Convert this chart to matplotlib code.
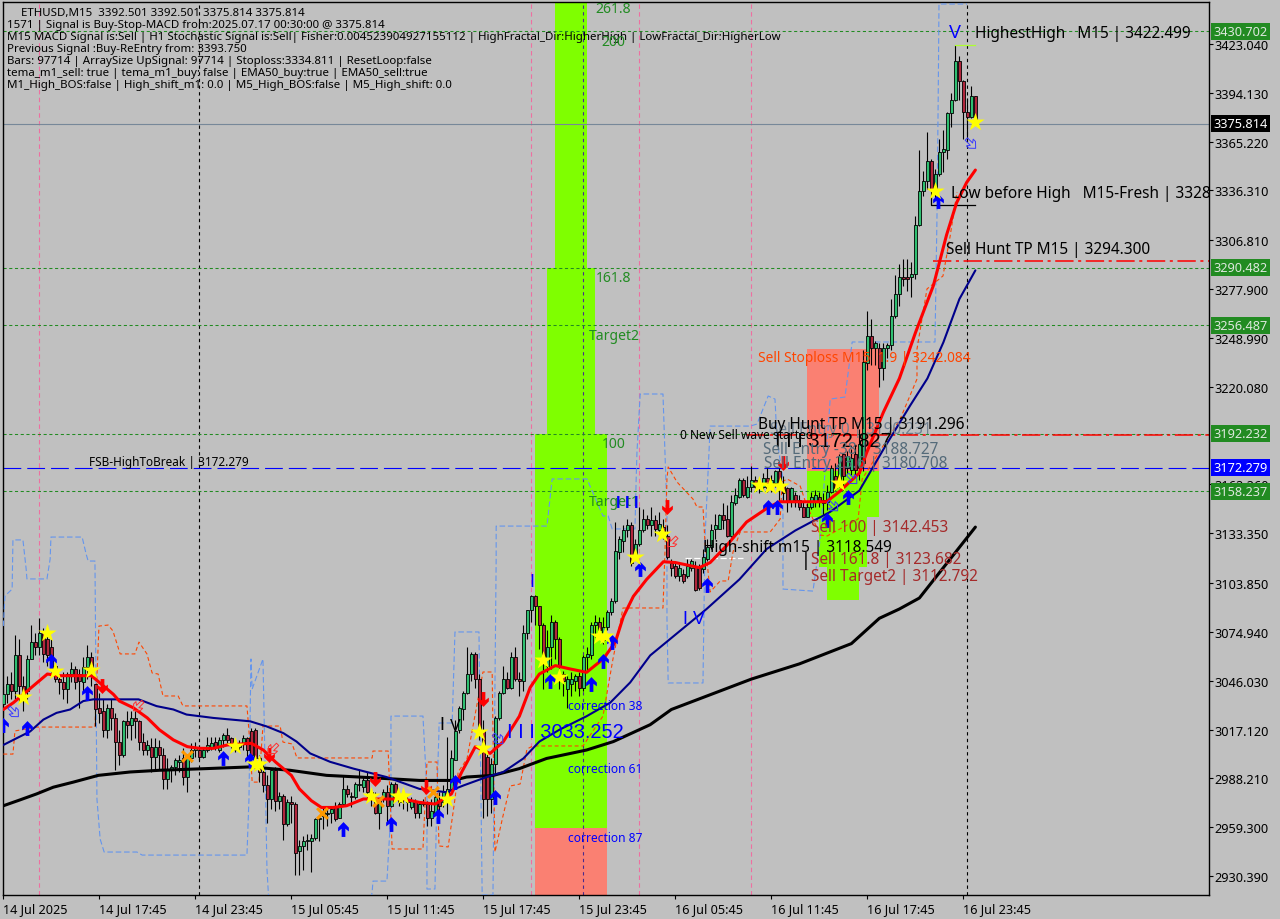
import matplotlib
matplotlib.use('Agg')
import matplotlib.pyplot as plt
from matplotlib.path import Path
from matplotlib.transforms import Affine2D

plt.rcParams['font.family'] = ['Noto Sans', 'DejaVu Sans']

# candles, one value per 15 minute bar
opens = [3032, 3038, 3044, 3040, 3061, 3043, 3040, 3059, 3069, 3066,
         3074, 3071, 3066, 3055, 3047, 3045, 3041, 3050, 3053, 3050,
         3045, 3054, 3060, 3044, 3030, 3028, 3017, 3030, 3024, 3010,
         3002, 3022, 3020, 3024, 3022, 3010, 3005, 3007, 3001, 3007,
         3002, 2988, 2993, 2995, 2998, 3000, 2989, 3000, 3005, 3005,
         3001, 3005, 3007, 3010, 3005, 3011, 3014, 3012, 3005, 3007,
         3009, 3012, 3016, 3017, 3000, 2992, 2984, 2976, 2993, 2975,
         2978, 2961, 2974, 2973, 2945, 2948, 2951, 2951, 2953, 2964,
         2966, 2967, 2968, 2971, 2965, 2973, 2982, 2978, 2977, 2984,
         2983, 2987, 2980, 2975, 2968, 2976, 2980, 2972, 2985, 2974,
         2977, 2976, 2971, 2974, 2968, 2973, 2973, 2965, 2968, 2975,
         2974, 2978, 2982, 2999, 3017, 3029, 3039, 3050, 3062, 3047,
         3017, 3001, 2976, 2997, 3024, 3039, 3047, 3042, 3060, 3047,
         3046, 3074, 3088, 3096, 3090, 3079, 3055, 3066, 3081, 3071,
         3050, 3041, 3044, 3046, 3049, 3042, 3060, 3061, 3079, 3081,
         3070, 3078, 3087, 3093, 3122, 3129, 3135, 3138, 3121, 3127,
         3135, 3142, 3138, 3141, 3135, 3137, 3132, 3116, 3114, 3108,
         3109, 3108, 3113, 3114, 3113, 3112, 3118, 3125, 3136, 3136,
         3144, 3142, 3132, 3151, 3155, 3165, 3155, 3161, 3165, 3161,
         3161, 3166, 3160, 3163, 3170, 3162, 3160, 3152, 3156, 3153,
         3149, 3143, 3149, 3152, 3155, 3151, 3152, 3158, 3167, 3165,
         3180, 3172, 3171, 3180, 3172, 3175, 3234, 3250, 3243, 3243,
         3231, 3243, 3245, 3262, 3275, 3285, 3284.8, 3285, 3287, 3316,
         3336, 3342, 3354, 3337, 3346, 3359, 3360, 3382, 3390, 3413,
         3401, 3383, 3380, 3392.5]
highs = [3043, 3049, 3051, 3073, 3071, 3049, 3061, 3079, 3074, 3083,
         3077, 3075, 3071, 3057, 3050, 3051, 3051, 3057, 3055, 3053,
         3060, 3067, 3063, 3044, 3039, 3035, 3032, 3035, 3027, 3017,
         3023, 3028, 3028, 3028, 3023, 3015, 3011, 3012, 3012, 3011,
         3006, 3000, 2996, 3000, 3002, 3006, 3001, 3009, 3010, 3008,
         3007, 3013, 3013, 3013, 3013, 3015, 3018, 3013, 3011, 3011,
         3014, 3013, 3018, 3018, 3002, 2996, 2990, 2994, 2995, 2980,
         2979, 2976, 2978, 2974, 2952, 2954, 2955, 2955, 2965, 2966,
         2971, 2971, 2972, 2974, 2974, 2990, 2984, 2980, 2986, 2994,
         2989, 2992, 2982, 2980, 2976, 2982, 2984, 2986, 2986, 2980,
         2979, 2977, 2977, 2976, 2974, 2976, 2975, 2976, 2982, 2980,
         2984, 3013, 3005, 3023, 3031, 3040, 3066, 3063, 3063, 3050,
         3023, 3003, 3000, 3025, 3040, 3055, 3051, 3063, 3066, 3051,
         3079, 3088, 3097, 3097, 3090, 3080, 3076, 3085, 3082, 3072,
         3052, 3049, 3051, 3050, 3051, 3061, 3066, 3081, 3085, 3084,
         3084, 3088, 3095, 3140, 3132, 3138, 3142, 3140, 3130, 3149,
         3148, 3144, 3149, 3144, 3146, 3142, 3138, 3118, 3116, 3115,
         3112, 3118, 3118, 3117, 3115, 3124, 3130, 3139, 3145, 3145,
         3151, 3150, 3156, 3160, 3166, 3166, 3167, 3173, 3167, 3166,
         3169, 3172, 3168, 3171, 3172, 3167, 3161, 3161, 3158, 3156,
         3152, 3151, 3158, 3159, 3158, 3157, 3162, 3174, 3175, 3180,
         3180, 3182, 3183, 3185, 3195, 3242, 3265, 3260, 3247, 3246,
         3246, 3246, 3272, 3286, 3293, 3296, 3296, 3294, 3321, 3360,
         3348, 3371, 3355, 3349, 3367, 3372, 3383, 3394, 3422.5, 3416,
         3402, 3391, 3398, 3392.5]
lows = [3025, 3033, 3035, 3035, 3033, 3028, 3035, 3059, 3061, 3061,
        3057, 3055, 3051, 3045, 3038, 3035, 3033, 3045, 3041, 3030,
        3039, 3047, 3043, 3019, 3021, 3013, 3012, 3017, 2993, 2996,
        3001, 3012, 3011, 3012, 3005, 3002, 3002, 2992, 2994, 2994,
        2982, 2982, 2986, 2990, 2992, 2984, 2980, 2998, 3001, 2999,
        3000, 3004, 3005, 3005, 3004, 3007, 3008, 3006, 3004, 3005,
        3005, 3000, 2994, 2993, 2986, 2980, 2962, 2970, 2969, 2970,
        2952, 2960, 2962, 2931, 2931, 2934, 2946, 2933, 2952, 2951,
        2958, 2960, 2962, 2963, 2965, 2972, 2977, 2971, 2976, 2981,
        2980, 2976, 2972, 2967, 2958, 2974, 2962, 2971, 2976, 2972,
        2970, 2969, 2970, 2965, 2965, 2972, 2960, 2960, 2967, 2966,
        2971, 2967, 2980, 2999, 3015, 3023, 3038, 3046, 3042, 3011,
        2965, 2966, 2968, 2990, 3023, 3038, 3041, 3041, 3046, 3037,
        3040, 3071, 3081, 3079, 3065, 3041, 3051, 3053, 3059, 3041,
        3037, 3030, 3037, 3040, 3037, 3040, 3051, 3059, 3072, 3071,
        3068, 3076, 3085, 3092, 3118, 3122, 3131, 3114, 3118, 3126,
        3134, 3136, 3132, 3132, 3130, 3130, 3118, 3108, 3107, 3105,
        3104, 3107, 3111, 3099, 3100, 3110, 3117, 3124, 3130, 3136,
        3136, 3131, 3131, 3150, 3154, 3155, 3154, 3158, 3160, 3157,
        3159, 3158, 3158, 3161, 3152, 3152, 3146, 3149, 3149, 3147,
        3143, 3143, 3148, 3149, 3149, 3144, 3147, 3157, 3159, 3161,
        3159, 3169, 3168, 3167, 3165, 3170, 3230, 3233, 3233, 3220,
        3224, 3237, 3242, 3261, 3268, 3280, 3277, 3273, 3284, 3315,
        3333, 3337, 3332, 3331, 3345, 3347, 3355, 3374, 3389, 3390,
        3367, 3367, 3379, 3375.8]
closes = [3038, 3044, 3040, 3061, 3043, 3035, 3059, 3069, 3066, 3074,
          3062, 3061, 3053, 3047, 3045, 3041, 3050, 3053, 3045, 3046,
          3054, 3060, 3050, 3029, 3027, 3017, 3030, 3024, 3010, 3002,
          3022, 3020, 3024, 3022, 3010, 3005, 3008, 3001, 3007, 3002,
          2988, 2994, 2995, 2999, 2999, 2989, 3000, 3005, 3007, 3001,
          3005, 3008, 3009, 3007, 3011, 3014, 3011, 3008, 3009, 3009,
          3012, 3005, 3002, 3000, 2992, 2984, 2976, 2993, 2975, 2978,
          2961, 2974, 2973, 2944, 2948, 2951, 2951.8, 2953, 2964, 2965,
          2969, 2968, 2970, 2964, 2973, 2982, 2979, 2977, 2985, 2985,
          2987, 2980, 2976, 2968, 2975, 2980, 2972, 2985, 2977, 2979,
          2976, 2974, 2975, 2968, 2973, 2974, 2965, 2969, 2977, 2972,
          2980, 2982, 3000, 3016, 3030, 3039, 3050, 3062, 3047, 3017,
          2976, 2976, 2997, 3024, 3039, 3047, 3042, 3060, 3047, 3046,
          3074, 3088, 3096, 3090, 3079, 3060, 3066, 3081, 3071, 3055,
          3046, 3047, 3047, 3049, 3042, 3060, 3062, 3079, 3081, 3076,
          3078, 3087, 3093, 3123, 3130, 3135, 3138, 3116, 3127, 3135,
          3142, 3138, 3141, 3136, 3139, 3132, 3119, 3113, 3108, 3113,
          3105, 3114, 3117, 3100, 3101, 3119, 3125, 3135, 3138, 3144,
          3141, 3132, 3152, 3156, 3165, 3156, 3161, 3165, 3161, 3163,
          3166, 3160, 3165, 3170, 3161, 3157, 3152, 3160, 3153, 3149,
          3143, 3149, 3155, 3156, 3152, 3153, 3158, 3172, 3160, 3179,
          3167, 3179, 3178, 3171, 3186, 3235, 3250, 3243, 3246, 3231,
          3243, 3245, 3262, 3275, 3285, 3284, 3284, 3287, 3316, 3336,
          3342, 3354, 3337, 3346, 3359, 3361, 3382, 3390, 3413, 3401,
          3383, 3380, 3392.5, 3375.814]

# moving averages, read at the bars where the curve bends
red_bars = [0, 2.5, 5, 7.5, 11, 14, 19, 22, 25, 27.5, 29, 32.5, 36, 39, 42.5, 46, 49, 52.5, 56, 62,
            65, 68, 72, 74, 77, 79.5, 82.5, 85.8, 90, 95.8, 100, 104, 108, 112, 114.6, 118, 121.7,
            125, 129, 131.7, 134, 138, 141.7, 145.8, 150, 153, 155, 157.5, 160.8, 165, 168, 174,
            176.7, 180.8, 185.8, 190.8, 194, 199, 205.8, 209, 214, 215.8, 220, 224, 228, 232.5,
            235.8, 238.3, 240.8, 243]
red_vals = [3029, 3033, 3038, 3043, 3050, 3049, 3049, 3049, 3043, 3038, 3034, 3030, 3024, 3017, 3011,
            3007, 3006, 3006, 3008, 3009, 3005, 2998, 2990, 2982, 2975, 2971, 2971, 2972, 2976, 2976,
            2976, 2974, 2973, 2979, 2992, 3007, 3003, 3010, 3025, 3042, 3050, 3055, 3053, 3051, 3059,
            3069, 3084, 3096, 3106, 3116.5, 3116, 3113, 3116, 3126, 3140, 3148, 3152, 3152, 3152, 3158,
            3169, 3181, 3205, 3225, 3252, 3280, 3310, 3329, 3341, 3348.4]
navy_bars = [0, 2.5, 6.7, 10, 13.3, 16.7, 20, 22.5, 28.3, 33.8, 38.3, 42.5, 45.8, 52.5, 61.7, 65.8, 70,
             73.3, 76.7, 81.7, 87.5, 95.8, 104, 110.8, 115, 120.8, 125, 130, 134, 139, 145.8, 151.7,
             156.7, 161.7, 175.8, 184, 190.8, 198, 206.7, 214, 220, 226.7, 231, 235, 239, 243]
navy_vals = [3008, 3011, 3016, 3023, 3027, 3029, 3034, 3035, 3035, 3035, 3031, 3029, 3026, 3024, 3022,
             3019, 3015, 3010, 3003, 2998, 2994, 2989, 2982, 2980, 2984, 2989, 2992, 3000, 3010, 3017,
             3025, 3033, 3045, 3061, 3088.5, 3106, 3124, 3135, 3146, 3158.6, 3183, 3209, 3225, 3246.4,
             3272, 3289]
black_bars = [0, 4.2, 8.3, 12.5, 17.5, 23.75, 31.7, 39, 50.8, 61.7, 71.7, 80.8, 89, 104, 112.5, 115.8,
              122.5, 129, 135.8, 145.8, 152.5, 161.7, 167, 187, 199, 212, 219, 224, 229, 235, 243]
black_vals = [2972, 2975.5, 2979, 2983, 2986, 2990, 2992, 2993, 2994, 2995, 2993, 2990, 2989, 2987, 2987,
              2989, 2990, 2994, 3000, 3005, 3010, 3020, 3029, 3047, 3056, 3068, 3083, 3088.5, 3095, 3113,
              3137]

# dashed band lines
blue_bars = [0, .4, 2.2, 2.4, 4.9, 5.7, 5.9, 10.9, 11.7, 11.9, 19.7, 20.7, 21.2, 22.9, 23.4, 24.2, 25.2,
             33.4, 34.7, 60.9, 61.4, 61.9, 62.2, 64.9, 65.2, 65.9, 66.4, 91.7, 92.2, 92.4, 95.9, 96.2,
             96.9, 96.9, 104.9, 105.9, 105.9, 107.9, 108.4, 108.9, 108.9, 112.2, 112.9, 118.9, 119.7,
             122.4, 123.2, 123.2, 129.2, 135.9, 137.2, 145.9, 149.9, 151.2, 152.2, 157.9, 158.2, 158.4,
             159.2, 164.9, 165.9, 165.9, 166.2, 174.9, 175.4, 176.7, 186.7, 188.4, 191.2, 192.9, 193.4,
             194.9, 194.9, 202.4, 204.2, 206.7, 210.4, 212.2, 232.9, 233.4, 233.7, 233.9, 240.9]
blue_vals = [3078.4, 3096.2, 3100.3, 3129.4, 3129.4, 3112.2, 3106.3, 3106.3, 3118.1, 3131.1, 3131.1, 3121,
             3116.9, 3116.9, 2976, 2952.3, 2944.6, 2944.6, 2942.8, 2942.8, 2976, 3058.9, 3041.1, 3058.9,
             3023.4, 2934.6, 2914, 2914, 2921, 2927.4, 2927.4, 2940.5, 2968.3, 3025.1, 3025.1, 2980.2,
             2922.7, 2922.7, 2980.2, 3015.7, 3021, 3021, 3074.9, 3074.9, 2919.2, 2919.2, 3118.1, 3137.6,
             3137.6, 3137.6, 3165.5, 3165.5, 3143.6, 3143.6, 3135.9, 3135.9, 3165.5, 3181.4, 3215.8,
             3215.8, 3145.9, 3082.6, 3044.7, 3044.7, 3129.9, 3196.8, 3196.8, 3198, 3214.6, 3212.8, 3189.1,
             3165.5, 3100.3, 3099.1, 3129.9, 3212.8, 3214, 3246.6, 3246.6, 3321.2, 3390.5, 3446.7, 3446.7]
orange_bars = [0, 2.4, 2.9, 8.4, 22.9, 23.9, 26.2, 27.4, 29.2, 32.9, 33.9, 35.9, 37.2, 38.7, 39.9, 43.7,
               44.9, 60.9, 61.7, 62.2, 63.9, 64.9, 69.2, 69.9, 72.2, 73.4, 92.2, 92.4, 96.2, 97.2, 104.9,
               105.9, 108.4, 108.9, 111.2, 112.9, 113.7, 115.9, 119.9, 122.2, 122.4, 122.9, 124.9, 126.7,
               129.2, 130.9, 132.4, 144.9, 149.9, 152.4, 153.4, 154.9, 164.9, 165.4, 165.9, 166.2, 168.4,
               172.4, 173.4, 174.9, 175.4, 176.7, 179.2, 181.2, 182.4, 184.2, 191.7, 194.2, 194.7, 195.9,
               199.2, 200.7, 204.2, 205.9, 213.7, 214.7, 224.2, 228.4, 228.4, 230.9, 234.9, 236.7, 238.4]
orange_vals = [3002.6, 3002.6, 3016.3, 3018.6, 3018.6, 3078.4, 3079, 3075.5, 3061.9, 3061.9, 3068.9, 3061.9,
               3050.6, 3050, 3037, 3037, 3031.1, 3031.1, 3007.4, 2986, 2986, 3019.2, 3019.2, 3009.7, 3008.6,
               3000.3, 3000.3, 3004.4, 3004.4, 2946.4, 2946.4, 2997.9, 2997.9, 2948.2, 2947.6, 2976, 2992,
               2999.7, 3051.2, 3051.2, 3015.7, 2944.6, 2965.9, 2983.7, 2984.9, 3005.6, 3007.4, 3007.4, 3025.1,
               3058.9, 3070.7, 3089.1, 3089.1, 3122.2, 3165.5, 3172.6, 3163.7, 3153.6, 3148.9, 3148.9, 3128.2,
               3098.6, 3105.1, 3105.1, 3122.2, 3134.1, 3134.1, 3141.8, 3163.7, 3165.5, 3161.3, 3150.7, 3132.3,
               3131.7, 3141.8, 3165.5, 3201, 3224.7, 3242.4, 3278, 3285.7, 3309.4, 3335.4]

# signal markers
star_bars = [4.9, 10.9, 12.9, 21.9, 57.9, 63, 63.8, 91.9, 98.7, 100, 110.9, 118.9, 119.9, 134.9, 138.9, 148.9,
             150.5, 157.9, 164.7, 188.9, 191.7, 194.2, 208.9, 232.9, 242.9]
star_vals = [3036.4, 3074.3, 3051.8, 3052.4, 3007.4, 2996.7, 2996.7, 2977.8, 2977.8, 2977.8, 2976, 3015.7,
             3006.2, 3058.3, 3048.2, 3072.5, 3072.5, 3119.3, 3132.9, 3161.9, 3161.3, 3161.3, 3163.1, 3336,
             3376.8]
up_bars = [0, 5.9, 11.9, 20.9, 54.9, 61.7, 84.9, 96.9, 108.7, 112.9, 122.9, 136.7, 146.9, 149.9, 152.2,
           159.2, 175.9, 191.2, 193.4, 205.9, 211.2, 233.7]
up_vals = [3020, 3018, 3058, 3039, 3000, 2999, 2958, 2961, 2966, 2986, 2977, 3046, 3044, 3058, 3069, 3112,
           3103, 3149, 3149, 3141, 3155, 3330]
down_bars = [24.7, 66.4, 92.9, 105.7, 119.9, 165.9, 194.9]
down_vals = [3043, 3002, 2988, 2983, 3035, 3149, 3175]
cross_bars = [45.9, 79.7, 93.7, 107.4]
cross_vals = [3001.5, 2967.7, 2974.8, 2980.2]
hollow_up_bars = [2.6, 241.9, 207.4, 212.2, 123.7]
hollow_up_vals = [3027.5, 3364, 3149.4, 3165.5, 3011.5]
hollow_down_bars = [33.7, 67.4, 167.2]
hollow_down_vals = [3031, 3005.6, 3128.2]

# fibonacci boxes: first bar, last bar, lower price, upper price
box_a_start = [132.9, 135.9, 137.9]
box_a_end = [150.9, 147.9, 145.9]
box_a_low = [2958.8, 3192.2, 3290.5]
box_a_high = [3192.2, 3290.5, 3450]
box_b_start = [200.9, 203.9, 205.9]
box_b_end = [218.9, 215.9, 213.9]
box_b_low = [3143, 3113.4, 3093.8]
box_b_high = [3170.2, 3143, 3113.4]

green_levels = [3430.702, 3290.482, 3256.487, 3192.232, 3158.237]
price_ticks = [3423.04, 3394.13, 3365.22, 3336.31, 3306.81, 3277.9, 3248.99, 3220.08, 3162.26, 3133.35,
               3103.85, 3074.94, 3046.03, 3017.12, 2988.21, 2959.3, 2930.39]
time_ticks = [0, 24, 48, 72, 96, 120, 144, 168, 192, 216, 240]
time_labels = ['14 Jul 2025', '14 Jul 17:45', '14 Jul 23:45', '15 Jul 05:45', '15 Jul 11:45', '15 Jul 17:45',
               '15 Jul 23:45', '16 Jul 05:45', '16 Jul 11:45', '16 Jul 17:45', '16 Jul 23:45']
pink_bars = [9, 132, 159, 187]
sep_bars = [49, 241]

BG = '#C0C0C0'
LIME = '#7FFF00'
SALMON = '#FA8072'
GREEN = '#228B22'

fig = plt.figure(figsize=(12.8, 9.2), dpi=100, facecolor=BG)
ax = fig.add_axes([2.5 / 1280, 24 / 920, 1206.5 / 1280, 893 / 920], facecolor=BG)
ax.set_xlim(-0.21, 301.4)
ax.set_ylim(2919.16, 3447.9)


def label(x, y, s, color='black', px=15.4, **kw):
    # x and y are pixels of the 1280x920 picture
    return fig.text(x / 1280, 1 - (y + 1.5) / 920, s, color=color, fontsize=px * 0.72, va='center', ha='left', **kw)


def arrow_marker(flip=1, turn=0):
    pts = [(-.25, -1), (.25, -1), (.25, .1), (.72, -.25), (.72, .25), (0, 1), (-.72, .25), (-.72, -.25), (-.25, .1)]
    path = Path([(a, b * flip) for a, b in pts] + [(pts[0][0], pts[0][1] * flip)], closed=True)
    return path.transformed(Affine2D().rotate_deg(turn))


# boxes
for s, e, lo, hi in zip(box_a_start, box_a_end, box_a_low, box_a_high):
    ax.fill_between([s, e], lo, hi, color=LIME, lw=0, zorder=1)
ax.fill_between([132.9, 150.9], 2900, 2958.8, color=SALMON, lw=0, zorder=1)
for s, e, lo, hi in zip(box_b_start, box_b_end, box_b_low, box_b_high):
    ax.fill_between([s, e], lo, hi, color=LIME, lw=0, zorder=1)
ax.fill_between([200.9, 218.9], 3170.2, 3242.4, color=SALMON, lw=0, zorder=1)

# vertical and horizontal lines
for b in pink_bars:
    ax.axvline(b, color='#EE6FA0', lw=0.8, ls=(0, (4, 3)), zorder=2)
ax.axvline(144.9, color='#4B2A8C', lw=0.8, ls=(0, (3, 3)), zorder=2)
for b in sep_bars:
    ax.axvline(b, color='black', lw=0.8, ls=(0, (3, 3)), zorder=2)
for lv in green_levels:
    ax.axhline(lv, color=GREEN, lw=0.75, ls=(0, (3, 2.5)), zorder=2)
ax.axhline(3172.279, color='#0000FF', lw=0.8, ls=(0, (16, 5.4)), zorder=2)
ax.axhline(3375.814, color='#778899', lw=0.8, zorder=2)
ax.plot([185.8, 301.4], [3191.296, 3191.296], color='#FF0000', lw=1.1, ls=(0, (12, 3, 2, 3)), zorder=2)
ax.plot([232.4, 301.4], [3294.3, 3294.3], color='#FF0000', lw=1.1, ls=(0, (12, 3, 2, 3)), zorder=2)
ax.plot([170.4, 185], [3118.549, 3118.549], color='white', lw=0.9, ls=(0, (5, 2)), zorder=3)
ax.plot([232, 232, 243], [3332, 3328, 3328], color='black', lw=0.9, zorder=6)
ax.plot([238, 243], [3422.5, 3422.5], color='#ADFF2F', lw=0.9, zorder=6)

# band lines
ax.plot(blue_bars, blue_vals, color='#6495ED', lw=0.8, ls=(0, (5, 2.5)), zorder=3)
ax.plot(orange_bars, orange_vals, color='#FF4500', lw=0.8, ls=(0, (3.5, 2.5)), zorder=3)

# candles
bars = list(range(len(opens)))
ax.vlines(bars, lows, highs, color='black', lw=0.8, zorder=4)
for i in bars:
    up = closes[i] >= opens[i]
    ax.bar(i, max(abs(closes[i] - opens[i]), 0.6), bottom=min(opens[i], closes[i]), width=0.7,
           color='#2FBF71' if up else '#B0263C', edgecolor='black', lw=0.6, zorder=5)

# averages
ax.plot(black_bars, black_vals, color='black', lw=2.2, zorder=6, solid_capstyle='round')
ax.plot(navy_bars, navy_vals, color='#00008B', lw=1.5, zorder=6, solid_capstyle='round')
ax.plot(red_bars, red_vals, color='#FF0000', lw=2.2, zorder=7, solid_capstyle='round')

# markers
ax.scatter(up_bars, up_vals, marker=arrow_marker(1), s=115, color='#0000FF', lw=0, zorder=8)
ax.scatter(down_bars, down_vals, marker=arrow_marker(-1), s=115, color='#FF0000', lw=0, zorder=8)
ax.scatter(cross_bars, cross_vals, marker='x', s=60, color='#FF9900', lw=2.2, zorder=8)
ax.scatter(hollow_up_bars, hollow_up_vals, marker=arrow_marker(1, 225), s=70, facecolors='none',
           edgecolors='#3A3AFF', lw=0.7, zorder=8)
ax.scatter(hollow_down_bars, hollow_down_vals, marker=arrow_marker(1, 135), s=70, facecolors='none',
           edgecolors='#FF3030', lw=0.7, zorder=8)
ax.scatter(star_bars, star_vals, marker='*', s=190, color='#FFFF00', lw=0, zorder=9)

# axes
for side in ax.spines:
    ax.spines[side].set_linewidth(1.0)
    ax.spines[side].set_color('black')
ax.set_xticks(time_ticks)
ax.set_xticklabels(time_labels, ha='left', fontsize=9.1)
ax.yaxis.tick_right()
ax.set_yticks(price_ticks)
ax.set_yticklabels(['%.3f' % v for v in price_ticks], fontsize=9.2)
ax.tick_params(axis='x', length=3, width=0.8, pad=2)
ax.tick_params(axis='y', length=3, width=0.8, pad=1)

# price badges on the right
for lv, bg, fg in [(3430.702, GREEN, '#DDE8DD'), (3290.482, GREEN, '#DDE8DD'), (3256.487, GREEN, '#DDE8DD'),
                   (3192.232, GREEN, '#DDE8DD'), (3158.237, GREEN, '#DDE8DD'), (3172.279, '#0000FF', 'white'),
                   (3375.814, 'black', 'white')]:
    ax.annotate('%.3f' % lv, xy=(1, lv), xycoords=ax.get_yaxis_transform(), xytext=(3.2, 0),
                textcoords='offset points', va='center', ha='left', color=fg, fontsize=9.2, zorder=20,
                bbox=dict(boxstyle='square,pad=0.16', fc=bg, ec='none'), annotation_clip=False)

# info block
label(21, 12, 'ETHUSD,M15  3392.501 3392.501 3375.814 3375.814', px=11.5)
label(7, 24, '1571 | Signal is Buy-Stop-MACD from:2025.07.17 00:30:00 @ 3375.814', px=11.5)
label(7, 36, 'M15 MACD Signal is:Sell | H1 Stochastic Signal is:Sell| Fisher:0.004523904927155112 | '
             'HighFractal_Dir:HigherHigh | LowFractal_Dir:HigherLow', px=11.5)
label(7, 48, 'Previous Signal :Buy-ReEntry from: 3393.750', px=11.5)
label(7, 60, 'Bars: 97714 | ArraySize UpSignal: 97714 | Stoploss:3334.811 | ResetLoop:false', px=11.5)
label(7, 72, 'tema_m1_sell: true | tema_m1_buy: false | EMA50_buy:true | EMA50_sell:true', px=11.5)
label(7, 84, 'M1_High_BOS:false | High_shift_m1: 0.0 | M5_High_BOS:false | M5_High_shift: 0.0', px=11.5)

# fibonacci labels
label(595, 8, '261.8', GREEN, 14)
label(601, 41, '200', GREEN, 14)
label(596, 277, '161.8', GREEN, 14)
label(589, 335, 'Target2', GREEN, 14)
label(602, 443, '100', GREEN, 14)
label(589, 501, 'Target1', GREEN, 14)
label(568, 705, 'correction 38', '#0000FF', 12)
label(568, 768, 'correction 61', '#0000FF', 12)
label(568, 837, 'correction 87', '#0000FF', 12)

# chart notes
label(89, 461, 'FSB-HighToBreak | 3172.279', px=11.8)
label(949, 32, 'V', '#0000FF', 18, family='Liberation Sans')
label(975, 32, 'HighestHigh   M15 | 3422.499')
label(951, 192, 'Low before High   M15-Fresh | 3328')
label(946, 249, 'Sell Hunt TP M15 | 3294.300')
label(758, 357, 'Sell Stoploss M15  1.9 | 3242.084', '#FF4500', 13.8)
label(770, 429, 'Sell Entry 0 | 3190.231', '#708090')
label(758, 424, 'Buy Hunt TP M15 | 3191.296')
label(680, 434, '0 New Sell wave started', px=12)
label(775, 440, 'I I I 3172.827', px=20, family='Liberation Sans')
label(763, 449, 'Sell Entry -38 | 3188.727', '#556B7A')
label(764, 463, 'Sell Entry 23.6 | 3180.708', '#556B7A')
label(811, 526, 'Sell 100 | 3142.453', '#A52A2A')
label(811, 559, 'Sell 161.8 | 3123.682', '#A52A2A')
label(811, 576, 'Sell Target2 | 3112.792', '#A52A2A')
label(703, 546, 'High-shift m15 | 3118.549')
label(801, 560, '|', px=18, fontweight='bold')
label(507, 731, 'I I I 3033.252', '#0000FF', 20, family='Liberation Sans')
label(529, 581, 'I', '#0000FF', 18, family='Liberation Sans')
label(683, 618, 'I V', '#0000FF', 18, family='Liberation Sans')
label(439, 724, 'I', px=18, family='Liberation Sans')
label(450, 725, 'V', px=16, family='Liberation Sans')
label(616, 502, 'I I I', '#0000FF', 16, family='Liberation Sans', fontweight='bold')

fig.savefig('out.png', dpi=100, facecolor=BG)
